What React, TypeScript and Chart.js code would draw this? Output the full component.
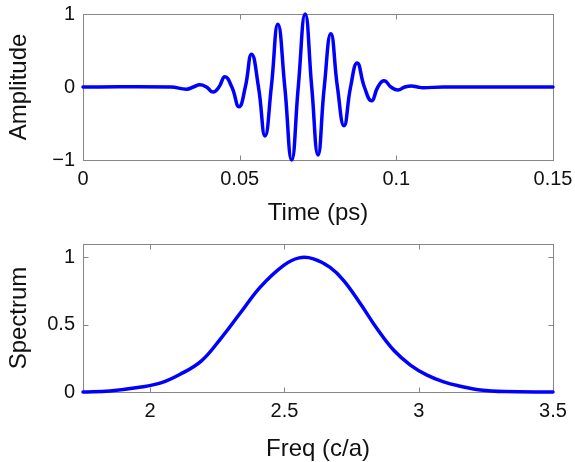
import React, { useEffect, useRef } from "react";
import { Chart, registerables } from "chart.js";

Chart.register(...registerables);

// ---- Top panel: time-domain pulse ----
const timeValues = [
  0, 0.028, 0.0331, 0.0352, 0.0373, 0.0394, 0.0415, 0.0434, 0.0453, 0.0475,
  0.0498, 0.0518, 0.0538, 0.056, 0.0581, 0.0601, 0.0622, 0.0644, 0.0666,
  0.0687, 0.0709, 0.073, 0.075, 0.077, 0.0791, 0.0812, 0.0833, 0.0854,
  0.0875, 0.0898, 0.0921, 0.0941, 0.0961, 0.0983, 0.1005, 0.1027, 0.1049,
  0.1068, 0.1085, 0.115, 0.15,
];
const amplitudeValues = [
  0, 0, -0.03, 0, 0.03, 0, -0.07, 0, 0.14, 0,
  -0.27, 0, 0.45, 0, -0.67, 0, 0.86, 0, -1.0,
  0, 1.0, 0, -0.93, 0, 0.73, 0, -0.53, 0,
  0.33, 0, -0.19, 0, 0.086, 0, -0.04, 0, 0.014,
  0, -0.01, 0, 0,
];
const timeTicks = [0, 0.05, 0.1, 0.15];
const amplitudeTicks = [-1, 0, 1];

// ---- Bottom panel: spectrum ----
const freqValues = [
  1.75, 1.85, 1.96, 2.04, 2.11, 2.19, 2.26, 2.335, 2.41, 2.496, 2.555, 2.608,
  2.67, 2.72, 2.783, 2.845, 2.907, 2.969, 3.031, 3.093, 3.15, 3.23, 3.32, 3.5,
];
const spectrumValues = [
  0, 0.008, 0.035, 0.068, 0.13, 0.23, 0.39, 0.585, 0.78, 0.94, 0.997, 0.99,
  0.926, 0.83, 0.656, 0.47, 0.31, 0.2, 0.125, 0.075, 0.045, 0.015, 0.003, 0,
];
const freqTicks = [2, 2.5, 3, 3.5];
const spectrumTicks = [0, 0.5, 1];

const FONT = "Arial, 'Liberation Sans', Helvetica, sans-serif";
const BORDER = "#868686";
const BLUE = "#0000ff";
const TEXT = "#111111";

const fmt = (v: number) => (v < 0 ? "\u2212" + String(-v) : String(v));

const framePlugin = {
  id: "matlabFrame",
  beforeDatasetsDraw(chart: any) {
    const { ctx, chartArea, scales } = chart;
    const l = Math.round(chartArea.left) + 0.5;
    const r = Math.round(chartArea.right) + 0.5;
    const t = Math.round(chartArea.top) + 0.5;
    const b = Math.round(chartArea.bottom) + 0.5;
    ctx.save();
    ctx.strokeStyle = BORDER;
    ctx.lineWidth = 1;
    ctx.strokeRect(l, t, r - l, b - t);
    const len = 5;
    ctx.beginPath();
    scales.x.ticks.forEach((tk: any) => {
      const px = Math.round(scales.x.getPixelForValue(tk.value)) + 0.5;
      ctx.moveTo(px, b);
      ctx.lineTo(px, b - len);
      ctx.moveTo(px, t);
      ctx.lineTo(px, t + len);
    });
    scales.y.ticks.forEach((tk: any) => {
      const py = Math.round(scales.y.getPixelForValue(tk.value)) + 0.5;
      ctx.moveTo(l, py);
      ctx.lineTo(l + len, py);
      ctx.moveTo(r, py);
      ctx.lineTo(r - len, py);
    });
    ctx.stroke();
    ctx.restore();
  },
};

interface PanelSpec {
  xs: number[];
  ys: number[];
  xMin: number;
  xMax: number;
  xTicks: number[];
  yMin: number;
  yMax: number;
  yTicks: number[];
  xTitle: string;
  yTitle: string;
  padTop: number;
  xAxisHeight: number;
  xTitlePad: number;
  tension: number;
}

function makeConfig(p: PanelSpec): any {
  return {
    type: "line",
    data: {
      datasets: [
        {
          data: p.xs.map((x, i) => ({ x, y: p.ys[i] })),
          borderColor: BLUE,
          borderWidth: 3.5,
          borderJoinStyle: "round",
          borderCapStyle: "round",
          pointRadius: 0,
          fill: false,
          tension: p.tension,
          clip: false,
        },
      ],
    },
    options: {
      animation: false,
      responsive: false,
      devicePixelRatio: 1,
      layout: { padding: { left: 0, right: 22, top: p.padTop, bottom: 0 } },
      plugins: { legend: { display: false }, tooltip: { enabled: false } },
      scales: {
        x: {
          type: "linear",
          min: p.xMin,
          max: p.xMax,
          afterBuildTicks: (s: any) => {
            s.ticks = p.xTicks.map((v) => ({ value: v }));
          },
          afterFit: (s: any) => {
            s.height = p.xAxisHeight;
            s.paddingLeft = 0;
            s.paddingRight = 0;
          },
          ticks: {
            callback: (v: any) => fmt(Number(v)),
            font: { family: FONT, size: 20 },
            color: TEXT,
            padding: 7,
            maxRotation: 0,
            autoSkip: false,
          },
          grid: { display: false, drawTicks: false },
          border: { display: false },
          title: {
            display: true,
            text: p.xTitle,
            font: { family: FONT, size: 24, lineHeight: 1 },
            color: TEXT,
            padding: { top: 0, bottom: p.xTitlePad },
          },
        },
        y: {
          type: "linear",
          min: p.yMin,
          max: p.yMax,
          afterBuildTicks: (s: any) => {
            s.ticks = p.yTicks.map((v) => ({ value: v }));
          },
          afterFit: (s: any) => {
            s.width = 83;
            s.paddingTop = 0;
            s.paddingBottom = 0;
          },
          ticks: {
            callback: (v: any) => fmt(Number(v)),
            font: { family: FONT, size: 20 },
            color: TEXT,
            padding: 8,
            autoSkip: false,
          },
          grid: { display: false, drawTicks: false },
          border: { display: false },
          title: {
            display: true,
            text: p.yTitle,
            font: { family: FONT, size: 24, lineHeight: 1 },
            color: TEXT,
            padding: { top: 7, bottom: 0 },
          },
        },
      },
    },
    plugins: [framePlugin],
  };
}

export default function App() {
  const topRef = useRef<HTMLCanvasElement | null>(null);
  const botRef = useRef<HTMLCanvasElement | null>(null);

  useEffect(() => {
    const top = new Chart(
      topRef.current as HTMLCanvasElement,
      makeConfig({
        xs: timeValues,
        ys: amplitudeValues,
        xMin: 0,
        xMax: 0.15,
        xTicks: timeTicks,
        yMin: -1,
        yMax: 1,
        yTicks: amplitudeTicks,
        xTitle: "Time (ps)",
        yTitle: "Amplitude",
        padTop: 14,
        xAxisHeight: 71,
        xTitlePad: 6,
        tension: 0.48,
      })
    );
    const bot = new Chart(
      botRef.current as HTMLCanvasElement,
      makeConfig({
        xs: freqValues,
        ys: spectrumValues,
        xMin: 1.75,
        xMax: 3.5,
        xTicks: freqTicks,
        yMin: 0,
        yMax: 1.1,
        yTicks: spectrumTicks,
        xTitle: "Freq (c/a)",
        yTitle: "Spectrum",
        padTop: 13,
        xAxisHeight: 70,
        xTitlePad: 1,
        tension: 0.4,
      })
    );
    return () => {
      top.destroy();
      bot.destroy();
    };
  }, []);

  return (
    <div
      style={{
        position: "fixed",
        left: 0,
        top: 0,
        width: 575,
        height: 462,
        background: "#ffffff",
      }}
    >
      <canvas
        ref={topRef}
        width={575}
        height={231}
        style={{ position: "absolute", left: 0, top: 0, width: 575, height: 231 }}
      />
      <canvas
        ref={botRef}
        width={575}
        height={231}
        style={{ position: "absolute", left: 0, top: 231, width: 575, height: 231 }}
      />
    </div>
  );
}
